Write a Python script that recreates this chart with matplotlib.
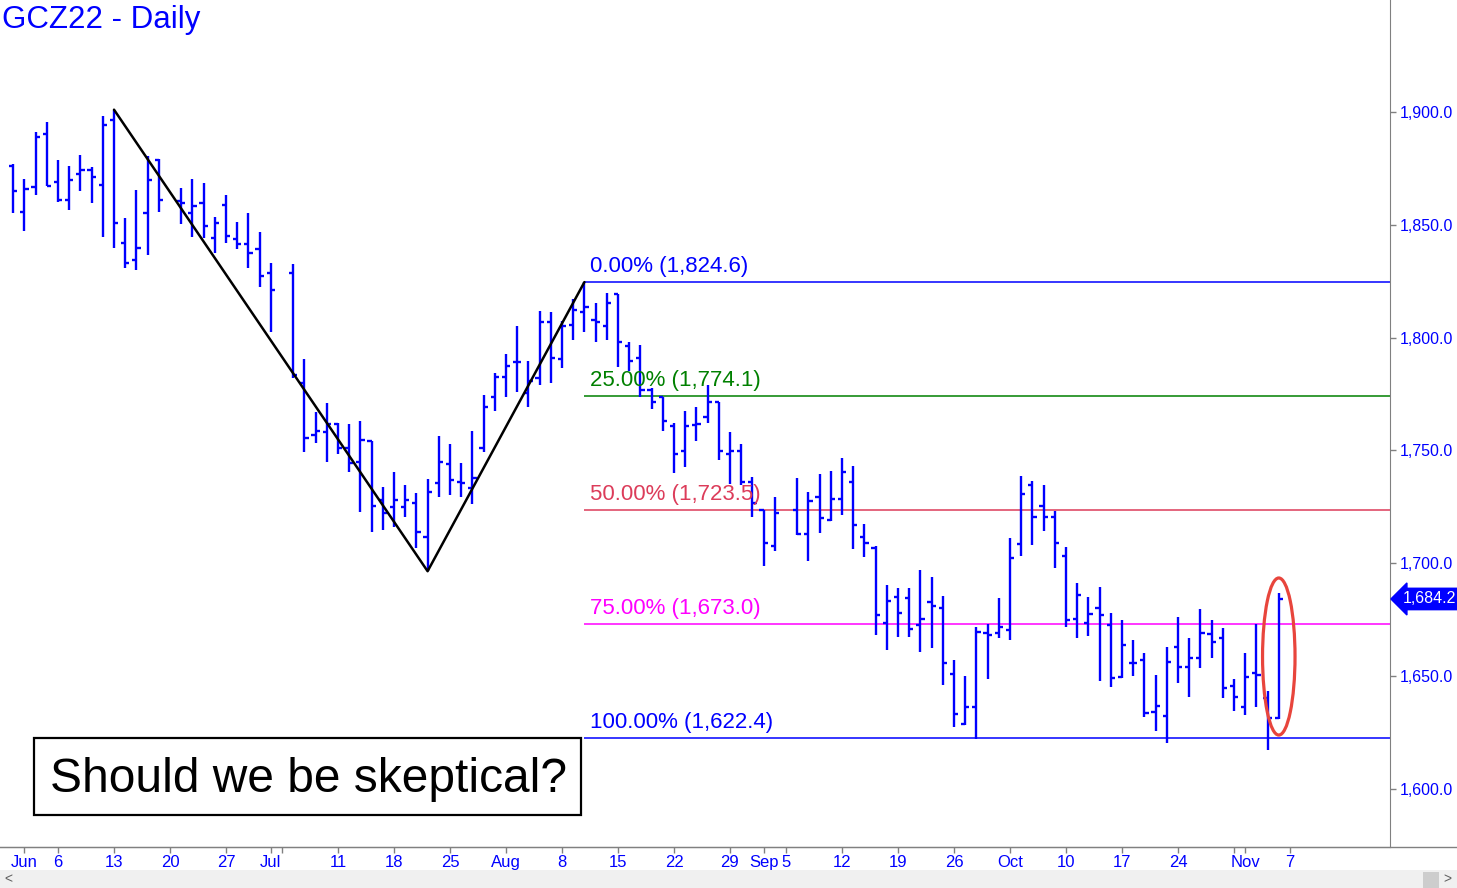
import matplotlib
matplotlib.use("Agg")
import matplotlib.pyplot as plt
from matplotlib.patches import Ellipse, Rectangle
import numpy as np
import pandas as pd

plt.rcParams['font.family'] = ['Liberation Sans', 'DejaVu Sans']

# daily OHLC, GCZ22, May 31 - Nov 4 2022 (trading days only)
opens = [1876.0, 1855.7, 1866.6, 1890.3, 1869.1, 1861.0, 1872.5, 1874.3, 1867.7, 1896.5,
         1842.1, 1834.4, 1855.4, 1878.7, 1860.6, 1855.1, 1859.8, 1844.0, 1858.8, 1843.7,
         1841.5, 1839.3, 1828.8, 1828.5, 1780.0, 1756.9, 1758.3, 1761.7, 1751.0, 1745.0,
         1754.2, 1728.0, 1725.1, 1724.9, 1726.6, 1711.5, 1735.5, 1744.0, 1736.2, 1733.2,
         1751.0, 1773.6, 1782.4, 1789.4, 1775.5, 1782.0, 1807.1, 1790.4, 1805.6, 1811.5,
         1807.8, 1805.2, 1819.4, 1796.3, 1790.9, 1776.8, 1773.6, 1760.9, 1749.9, 1761.3,
         1764.8, 1771.6, 1748.5, 1749.9, 1736.2, 1723.6, 1707.7, 1723.6, 1713.0, 1729.2,
         1719.2, 1728.6, 1735.9, 1711.5, 1706.7, 1673.7, 1685.2, 1684.5, 1672.7, 1683.0,
         1680.0, 1650.9, 1628.8, 1636.5, 1669.0, 1669.3, 1670.5, 1708.4, 1734.7, 1725.4,
         1720.7, 1703.3, 1675.2, 1673.4, 1680.0, 1672.7, 1649.5, 1656.0, 1657.2, 1634.3,
         1632.4, 1662.8, 1654.2, 1657.9, 1668.7, 1666.8, 1645.5, 1636.2, 1651.3, 1640.5,
         1631.3]
highs = [1877.0, 1870.3, 1891.3, 1895.7, 1878.7, 1876.0, 1881.0, 1875.8, 1898.4, 1901.0,
         1852.9, 1865.4, 1880.5, 1879.0, 1866.2, 1870.2, 1868.7, 1853.6, 1863.2, 1851.1,
         1855.4, 1847.0, 1833.2, 1832.6, 1790.4, 1766.9, 1770.9, 1762.0, 1761.7, 1763.2,
         1754.4, 1734.0, 1740.6, 1734.7, 1731.0, 1737.5, 1756.4, 1752.9, 1744.3, 1758.8,
         1774.6, 1784.5, 1792.6, 1805.2, 1789.8, 1812.0, 1811.5, 1807.5, 1817.0, 1824.6,
         1815.2, 1819.7, 1819.4, 1798.2, 1796.7, 1777.6, 1773.8, 1762.3, 1767.6, 1769.4,
         1779.0, 1771.6, 1758.4, 1752.9, 1738.1, 1723.6, 1729.5, 1737.7, 1731.8, 1739.6,
         1741.1, 1746.5, 1743.1, 1717.4, 1707.7, 1690.4, 1688.9, 1688.9, 1697.0, 1693.8,
         1685.5, 1657.2, 1650.0, 1671.6, 1673.0, 1684.5, 1711.0, 1738.7, 1736.6, 1734.7,
         1723.3, 1707.4, 1691.4, 1685.2, 1689.4, 1677.9, 1674.9, 1666.0, 1660.1, 1650.5,
         1663.0, 1676.3, 1666.8, 1679.6, 1674.9, 1671.2, 1648.6, 1660.4, 1673.0, 1643.5,
         1686.7]
lows = [1855.2, 1847.3, 1863.2, 1867.2, 1860.3, 1856.6, 1865.1, 1859.5, 1844.5, 1839.6,
        1830.7, 1830.0, 1836.6, 1855.8, 1850.4, 1844.7, 1844.2, 1837.7, 1841.8, 1839.2,
        1830.7, 1822.6, 1802.6, 1782.0, 1749.5, 1753.2, 1744.8, 1748.5, 1740.6, 1722.9,
        1714.0, 1714.8, 1716.2, 1720.4, 1707.0, 1696.5, 1729.2, 1730.3, 1729.2, 1726.3,
        1749.5, 1767.6, 1773.8, 1775.7, 1769.4, 1779.0, 1780.0, 1786.4, 1799.0, 1802.6,
        1798.2, 1799.0, 1787.1, 1785.0, 1773.6, 1768.3, 1758.8, 1739.9, 1742.6, 1754.4,
        1762.3, 1745.8, 1735.2, 1734.7, 1720.4, 1698.8, 1705.6, 1712.6, 1701.2, 1713.3,
        1718.9, 1721.4, 1706.2, 1702.7, 1668.2, 1661.6, 1667.2, 1667.5, 1660.8, 1662.3,
        1646.0, 1627.3, 1628.4, 1622.0, 1648.6, 1666.8, 1666.1, 1703.3, 1708.1, 1714.5,
        1697.8, 1671.9, 1666.8, 1667.8, 1648.0, 1645.0, 1649.0, 1650.1, 1631.8, 1625.8,
        1620.3, 1647.1, 1640.7, 1653.5, 1657.9, 1640.2, 1634.5, 1632.8, 1636.5, 1617.5,
        1631.0]
closes = [1865.0, 1865.9, 1888.8, 1867.2, 1861.0, 1869.9, 1874.3, 1871.1, 1894.2, 1850.7,
          1833.2, 1839.7, 1869.9, 1861.0, 1859.5, 1858.3, 1849.5, 1850.7, 1845.1, 1841.5,
          1837.7, 1827.3, 1821.1, 1783.5, 1755.4, 1758.6, 1761.7, 1751.0, 1744.3, 1754.7,
          1725.4, 1722.2, 1728.0, 1728.0, 1714.0, 1731.5, 1745.0, 1736.9, 1735.8, 1737.7,
          1769.4, 1782.4, 1787.4, 1789.4, 1781.0, 1807.1, 1791.1, 1805.2, 1812.3, 1813.7,
          1807.1, 1815.5, 1798.2, 1789.8, 1776.8, 1771.6, 1763.2, 1748.5, 1760.9, 1761.7,
          1771.6, 1749.9, 1749.9, 1736.2, 1726.9, 1709.2, 1722.4, 1713.0, 1727.8, 1720.0,
          1728.6, 1740.6, 1717.0, 1709.2, 1677.1, 1683.5, 1678.0, 1670.8, 1675.2, 1681.1,
          1655.7, 1633.2, 1636.2, 1669.7, 1668.2, 1672.0, 1702.2, 1730.6, 1720.7, 1720.7,
          1709.2, 1674.9, 1686.0, 1677.6, 1677.1, 1649.0, 1663.8, 1655.7, 1633.8, 1636.8,
          1656.4, 1653.9, 1657.9, 1669.3, 1665.3, 1644.7, 1640.7, 1649.5, 1650.5, 1631.5,
          1684.2]

holidays = ['2022-06-20', '2022-07-04', '2022-09-05']

# fibonacci retracement of the Jul 21 -> Aug 10 swing
fib_pcts = ['0.00%', '25.00%', '50.00%', '75.00%', '100.00%']
fib_levels = [1824.6, 1774.1, 1723.5, 1673.0, 1622.4]
fib_colors = ['#0000ff', '#008000', '#dc3c5a', '#ff00ff', '#0000ff']
fib_start = '2022-08-10'

# swing points for the zigzag
swing_dates = ['2022-06-13', '2022-07-21', '2022-08-10']

tick_dates = ['2022-06-01', '2022-06-06', '2022-06-13', '2022-06-20', '2022-06-27',
              '2022-07-01', '2022-07-04', '2022-07-11', '2022-07-18', '2022-07-25',
              '2022-08-01', '2022-08-08', '2022-08-15', '2022-08-22', '2022-08-29',
              '2022-09-01', '2022-09-05', '2022-09-12', '2022-09-19', '2022-09-26',
              '2022-10-03', '2022-10-10', '2022-10-17', '2022-10-24', '2022-10-31',
              '2022-11-01', '2022-11-07']
tick_labels = ['Jun', '6', '13', '20', '27', 'Jul', '', '11', '18', '25',
               'Aug', '8', '15', '22', '29', 'Sep', '5', '12', '19', '26',
               'Oct', '10', '17', '24', '', 'Nov', '7']

# weekday axis (holidays keep their slot)
all_days = pd.bdate_range('2022-05-31', '2022-12-30')
trade_days = pd.bdate_range('2022-05-31', '2022-11-04').difference(pd.to_datetime(holidays))
x = all_days.get_indexer(trade_days).astype(float)

def xpos(d):
    return float(all_days.get_loc(pd.Timestamp(d)))

W, H = 1457, 888
fig = plt.figure(figsize=(W / 100, H / 100), dpi=100)
ax = fig.add_axes([0, 1 - 847 / H, 1390 / W, 847 / H])

blue = '#0000ff'
tick = 0.38
ax.vlines(x, lows, highs, color=blue, lw=1.7, capstyle='butt', zorder=3)
ax.hlines(opens, x - tick, x, color=blue, lw=1.7, zorder=3)
ax.hlines(closes, x, x + tick, color=blue, lw=1.7, zorder=3)

# zigzag
sw_x = [xpos(d) for d in swing_dates]
idx = [list(trade_days).index(pd.Timestamp(d)) for d in swing_dates]
sw_y = [highs[idx[0]], lows[idx[1]], highs[idx[2]]]
ax.plot(sw_x, sw_y, color='black', lw=1.8, zorder=4, solid_capstyle='round')

# fib lines
xmin, xmax = -1.18, 122.93
fx = xpos(fib_start)
for p, lv, c in zip(fib_pcts, fib_levels, fib_colors):
    ax.hlines(lv, fx, xmax, color=c, lw=1.1, zorder=2)
    ax.annotate(f"{p} ({lv:,.1f})", xy=(fx, lv), xytext=(4, 4), textcoords='offset points',
                color=c, fontsize=16, ha='left', va='bottom', zorder=5)

# red ellipse round the last bar
ax.add_patch(Ellipse((x[-1], 1658.7), 2.9, 69.6, fill=False, ec='#e8453c', lw=2.3, zorder=6))

ax.set_xlim(xmin, xmax)
ax.set_ylim(1574.3, 1949.6)

ax.yaxis.tick_right()
yt = np.arange(1600, 1901, 50)
ax.set_yticks(yt)
ax.set_yticklabels([f"{v:,.1f}" for v in yt])
ax.tick_params(axis='y', colors='#808080', labelcolor=blue, labelsize=11.5, length=4, width=1, pad=3)

ax.set_xticks([xpos(d) for d in tick_dates])
ax.set_xticklabels(tick_labels)
ax.tick_params(axis='x', colors='#808080', labelcolor=blue, labelsize=12, length=4, width=1, pad=2)

for s in ['left', 'top']:
    ax.spines[s].set_visible(False)
ax.spines['right'].set_color('#808080')
ax.spines['bottom'].set_color('#808080')

# current price tag
ax.annotate(f"{closes[-1]:,.1f}", xy=(1, closes[-1]), xycoords=('axes fraction', 'data'),
            xytext=(9, 0), textcoords='offset points', ha='left', va='center',
            color='white', fontsize=11.5, annotation_clip=False,
            bbox=dict(boxstyle='larrow,pad=0.2', fc=blue, ec=blue))

fig.text(2 / W, 1 - 20 / H, 'GCZ22 - Daily', color=blue, fontsize=22.5, ha='left', va='center')

# bottom line across the full width and scroll bar
fig.add_artist(plt.Line2D([0, 1], [1 - 847 / H, 1 - 847 / H], color='#808080', lw=1))
fig.add_artist(Rectangle((0, 0), 1, 18 / H, transform=fig.transFigure, fc='#f0f0f0', ec='none'))
fig.add_artist(Rectangle((1423 / W, 0), 16 / W, 16 / H, transform=fig.transFigure, fc='#cdcdcd', ec='none'))
fig.text(8 / W, 9 / H, '<', color='#606060', fontsize=10, ha='center', va='center')
fig.text(1447 / W, 9 / H, '>', color='#606060', fontsize=10, ha='center', va='center')

# callout box
fig.add_artist(Rectangle((34 / W, 1 - 815 / H), 547 / W, 77 / H, transform=fig.transFigure,
                         fc='white', ec='black', lw=1.6, zorder=10))
fig.text(309 / W, 1 - 779 / H, 'Should we be skeptical?', fontsize=34.5, color='black',
         ha='center', va='center', zorder=11)

fig.savefig('out.png', dpi=100)
